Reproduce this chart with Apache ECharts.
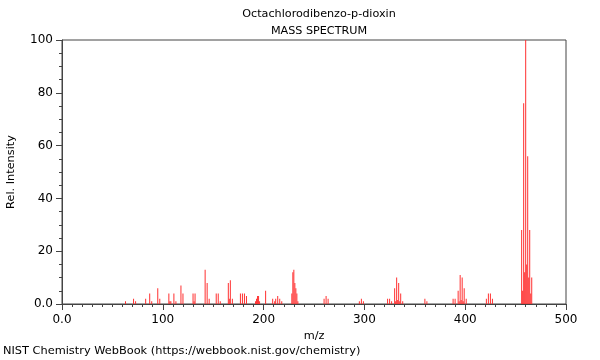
<!DOCTYPE html>
<html>
<head>
<meta charset="utf-8">
<script src="https://cdn.jsdelivr.net/npm/echarts@6/dist/echarts.min.js"></script>
<style>
html,body{margin:0;padding:0;background:#fff;}
#chart{width:600px;height:360px;}
</style>
</head>
<body>
<div id="chart"></div>
<script>
var chartTitle = 'Octachlorodibenzo-p-dioxin';
var chartSubtitle = 'MASS SPECTRUM';
var xAxisName = 'm/z';
var yAxisName = 'Rel. Intensity';
var footerText = 'NIST Chemistry WebBook (https://webbook.nist.gov/chemistry)';

var mzValues = [63,71,73,83,87,89,95,97,106,107,108,111,113,118,120,130,131,132,142,144,146,153,155,157,165,166,167,169,177,179,181,183,192,193,194,195,196,202,209,211,212,214,216,218,228,229,230,231,232,233,234,260,262,264,295,297,299,323,325,327,330,331,332,333,334,335,336,338,360,362,388,390,393,394,395,396,397,398,399,401,421,423,425,427,456,457,458,459,460,461,462,463,464,465,466];
var intensities = [1,2,1,2,4,1,6,2,4,1,1,4,1,7,4,4,1,4,13,8,2,4,4,1,8,2,9,2,4,4,4,3,1,2,3,3,1,5,2,1,2,3,2,1,4,12,13,8,6,4,1,2,3,2,1,2,1,2,2,1,6,1,10,1.5,8,1,4,1,2,1,2,2,5,1,11,1.5,10,1,6,2,2,4,4,2,28,5,76,12,100,15,56,10,28,4,10];

var xTickLabels = {0:'0.0',100:'100',200:'200',300:'300',400:'400',500:'500'};
var yTickLabels = {0:'0.0',20:'20',40:'40',60:'60',80:'80',100:'100'};

var peaks = mzValues.map(function(m, i){ return [m, intensities[i]]; });

var font = 'DejaVu Sans';
var chart = echarts.init(document.getElementById('chart'), null, {renderer:'canvas'});
chart.setOption({
  animation: false,
  backgroundColor: '#fff',
  title: [
    {text: chartTitle, left: 314, top: 4, textAlign: 'center',
     textStyle: {fontFamily: font, fontSize: 11.2, fontWeight: 'normal', color: '#000'}},
    {text: chartSubtitle, left: 314, top: 21, textAlign: 'center',
     textStyle: {fontFamily: font, fontSize: 11.2, fontWeight: 'normal', color: '#000'}}
  ],
  grid: {left: 62, right: 34, top: 40, bottom: 56, containLabel: false, outerBoundsMode: 'none',
         show: true, borderColor: '#444', borderWidth: 1, backgroundColor: 'transparent'},
  xAxis: {
    type: 'value', min: 0, max: 500, interval: 100,
    name: xAxisName, nameLocation: 'middle', nameGap: 25,
    nameTextStyle: {fontFamily: font, fontSize: 11.3, color: '#000'},
    axisLine: {show: true, lineStyle: {color: '#444'}},
    axisTick: {show: true, length: 6, lineStyle: {color: '#444'}},
    minorTick: {show: true, splitNumber: 10, length: 3, lineStyle: {color: '#444'}},
    splitLine: {show: false},
    axisLabel: {fontFamily: font, fontSize: 12, color: '#000', margin: 10,
      formatter: function(v){ return xTickLabels[v] !== undefined ? xTickLabels[v] : ''; }}
  },
  yAxis: {
    type: 'value', min: 0, max: 100, interval: 20,
    name: yAxisName, nameLocation: 'middle', nameGap: 45, nameRotate: 90,
    nameTextStyle: {fontFamily: font, fontSize: 11.3, color: '#000'},
    axisLine: {show: true, lineStyle: {color: '#444'}},
    axisTick: {show: true, length: 6, lineStyle: {color: '#444'}},
    minorTick: {show: true, splitNumber: 4, length: 3, lineStyle: {color: '#444'}},
    splitLine: {show: false},
    axisLabel: {fontFamily: font, fontSize: 12, color: '#000', margin: 9,
      formatter: function(v){ return yTickLabels[v] !== undefined ? yTickLabels[v] : ''; }}
  },
  series: [{
    type: 'bar',
    data: peaks,
    barWidth: 1,
    itemStyle: {color: '#ff3030'},
    silent: true
  }],
  graphic: [{
    type: 'text', left: 3, top: 346,
    style: {text: footerText, fontFamily: font, fontSize: 11.35, fill: '#000'}
  }]
});
</script>
</body>
</html>
